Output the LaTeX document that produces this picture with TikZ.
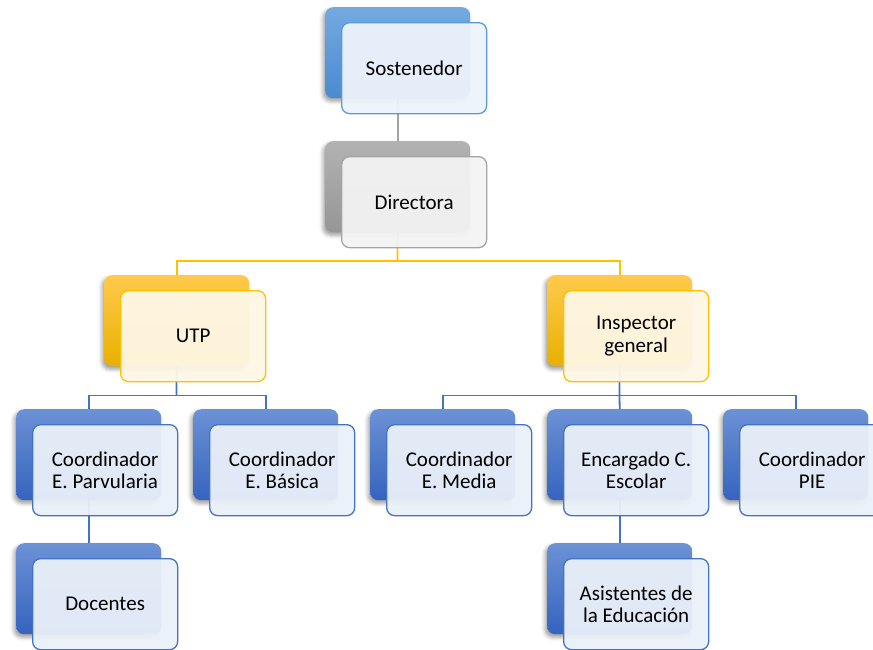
\documentclass[tikz,border=0pt]{standalone}
\usepackage{fontspec}
\setmainfont{Carlito}
\usetikzlibrary{shadows.blur,backgrounds}
\definecolor{sblue}{HTML}{5B9BD5}
\definecolor{sbluetop}{HTML}{74AAE0}
\definecolor{sbluebot}{HTML}{4A8AD0}
\definecolor{sbluefill}{HTML}{EDF3FB}
\definecolor{cblue}{HTML}{4472C4}
\definecolor{cbluetop}{HTML}{6C92D6}
\definecolor{cbluebot}{HTML}{3563BE}
\definecolor{cbluefill}{HTML}{EAF0F9}
\definecolor{cgray}{HTML}{A5A5A5}
\definecolor{cgraytop}{HTML}{B2B2B2}
\definecolor{cgraybot}{HTML}{969696}
\definecolor{cgrayfill}{HTML}{F3F3F3}
\definecolor{cyel}{HTML}{FFC000}
\definecolor{cyeltop}{HTML}{FFCA4C}
\definecolor{cyelbot}{HTML}{E8B000}
\definecolor{cyelfill}{HTML}{FEF7E5}
\tikzset{
  boxbase/.style={rounded corners=8pt, minimum width=145pt, minimum height=91pt,
    inner sep=0pt, anchor=north west},
  back/.style={boxbase, blur shadow={shadow xshift=-2pt, shadow yshift=-3pt,
    shadow blur radius=4pt, shadow opacity=40}},
  front/.style={boxbase, line width=1.3pt, fill opacity=0.95, text opacity=1,
    align=center, font=\fontsize{21}{22.7}\selectfont},
  sback/.style={back, top color=sbluetop, bottom color=sbluebot},
  sfront/.style={front, draw=sblue, fill=sbluefill},
  bback/.style={back, top color=cbluetop, bottom color=cbluebot},
  bfront/.style={front, draw=cblue, fill=cbluefill},
  gback/.style={back, top color=cgraytop, bottom color=cgraybot},
  gfront/.style={front, draw=cgray, fill=cgrayfill},
  yback/.style={back, top color=cyeltop, bottom color=cyelbot},
  yfront/.style={front, draw=cyel, fill=cyelfill},
  conn/.style={line width=1.8pt},
}
\begin{document}
\begin{tikzpicture}[x=1pt,y=-1pt]
\useasboundingbox (0,0) rectangle (873,649);
% back boxes
\node[sback] (sB) at (325,7) {};
\node[gback] (dB) at (325,141) {};
\node[yback] (uB) at (104,275) {};
\node[yback] (iB) at (547,275) {};
\node[bback] (pB) at (16,409) {};
\node[bback] (bB) at (193,409) {};
\node[bback] (mB) at (370,409) {};
\node[bback] (eB) at (547,409) {};
\node[bback] (pieB) at (723,409) {};
\node[bback] (docB) at (16,543) {};
\node[bback] (asB) at (547,543) {};
% connectors behind the boxes
\coordinate (dbus) at (397.5,261);
\coordinate (ubus) at (176.5,395.5);
\coordinate (ibus) at (619.5,395.5);
\begin{scope}[on background layer]
\draw[conn, cgray] (sB.south) -- (dB.north);
\draw[conn, cyel] (dB.south) -- (dbus);
\draw[conn, cyel] (uB.north) |- (dbus) -| (iB.north);
\draw[conn, cblue] (uB.south) -- (ubus);
\draw[conn, cblue] (pB.north) |- (ubus) -| (bB.north);
\draw[conn, cblue] (iB.south) -- (ibus);
\draw[conn, cblue] (mB.north) |- (ibus) -| (pieB.north);
\draw[conn, cblue] (eB.north) -- (ibus);
\draw[conn, cblue] (pB.south) -- (docB.north);
\draw[conn, cblue] (eB.south) -- (asB.north);
\end{scope}
% front boxes
\node[sfront] (s) at (341,22) {Sostenedor};
\node[gfront] (d) at (341,156) {Directora};
\node[yfront] (u) at (120,290) {UTP};
\node[yfront] (i) at (563,290) {Inspector\\general};
\node[bfront] (p) at (32,424) {Coordinador\\E. Parvularia};
\node[bfront] (b) at (209,424) {Coordinador\\E. Básica};
\node[bfront] (m) at (386,424) {Coordinador\\E. Media};
\node[bfront] (e) at (563,424) {Encargado C.\\Escolar};
\node[bfront] (pie) at (739,424) {Coordinador\\PIE};
\node[bfront] (doc) at (32,558) {Docentes};
\node[bfront] (as) at (563,558) {Asistentes de\\la Educación};
\end{tikzpicture}
\end{document}
